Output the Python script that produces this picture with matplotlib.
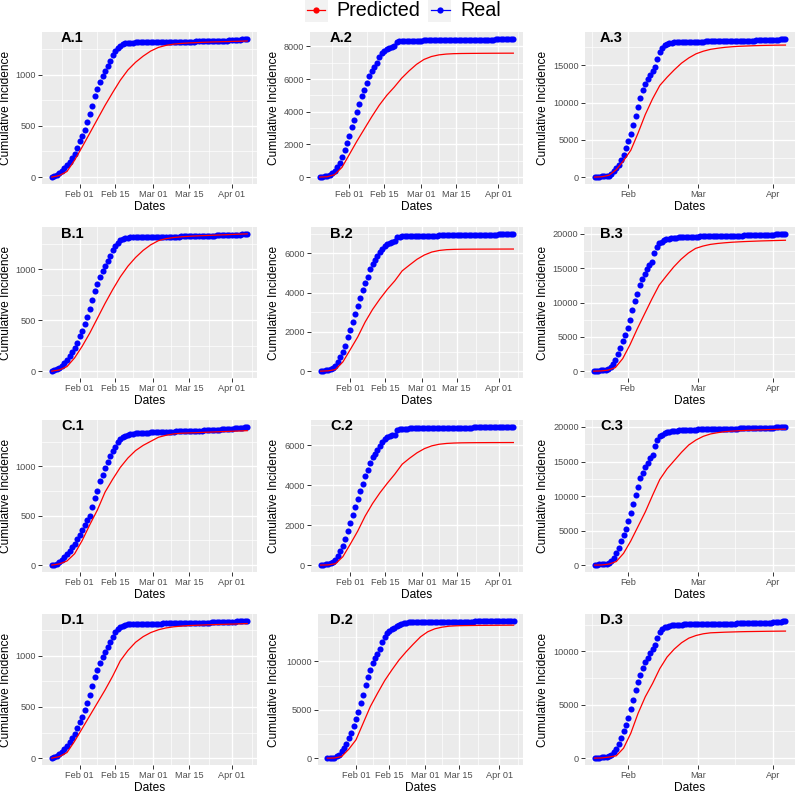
import numpy as np
import matplotlib.pyplot as plt
import matplotlib.dates as mdates
from matplotlib.ticker import MultipleLocator, FixedLocator, StrMethodFormatter
from matplotlib.lines import Line2D
from matplotlib.patches import Rectangle

plt.rcParams['font.family'] = ['Liberation Sans', 'DejaVu Sans']

# daily dates of each column of the grid
dates_col1 = np.arange('2020-01-21', '2020-04-08', dtype='datetime64[D]')  # 78 days
dates_col2 = np.arange('2020-01-20', '2020-04-08', dtype='datetime64[D]')  # 79 days
dates_col3 = np.arange('2020-01-18', '2020-04-07', dtype='datetime64[D]')  # 80 days

# real cumulative incidence (one value per day)
real_A1 = [0, 10, 20, 36, 60, 85, 117, 150, 190, 228, 287, 349, 397, 462, 537, 616, 697, 792, 857, 932,
           984, 1036, 1085, 1130, 1189, 1231, 1257, 1280, 1296, 1306, 1310,
           1311, 1312, 1313, 1313, 1314, 1314, 1315, 1315, 1316, 1316,
           1316, 1317, 1317, 1317, 1318, 1318, 1318, 1319, 1319, 1319,
           1320, 1320, 1321, 1321, 1322, 1322, 1323, 1323, 1324, 1325,
           1325, 1326, 1327, 1328, 1328, 1329, 1330, 1331, 1332, 1333,
           1335, 1337, 1339, 1341, 1343, 1345, 1348]
real_B1 = [0, 8, 18, 33, 55, 80, 110, 145, 185, 225, 280, 340, 395, 460, 530, 610, 695, 785, 855, 925,
           980, 1035, 1085, 1130, 1185, 1230, 1260, 1282, 1297, 1305, 1310,
           1312, 1313, 1314, 1314, 1315, 1315, 1316, 1316, 1317, 1317,
           1318, 1318, 1318, 1319, 1319, 1320, 1320, 1320, 1321, 1321,
           1322, 1322, 1323, 1323, 1324, 1324, 1325, 1325, 1326, 1327,
           1327, 1328, 1329, 1330, 1331, 1332, 1333, 1334, 1335, 1336,
           1337, 1338, 1339, 1340, 1342, 1343, 1345]
real_C1 = [0, 5, 15, 30, 50, 81, 108, 142, 180, 217, 268, 308, 356, 407, 454, 502, 586, 675, 749, 847,
           915, 983, 1044, 1102, 1153, 1197, 1247, 1278, 1298, 1312, 1322, 1329,
           1332, 1334, 1336, 1338, 1339, 1341, 1342, 1344, 1345, 1346,
           1347, 1348, 1349, 1350, 1351, 1352, 1353, 1354, 1355, 1356,
           1357, 1357, 1358, 1359, 1360, 1361, 1362, 1363, 1364, 1366,
           1367, 1368, 1370, 1371, 1373, 1374, 1376, 1378, 1380, 1383,
           1385, 1388, 1391, 1394, 1397, 1400]
real_D1 = [0, 10, 22, 38, 62, 88, 120, 155, 195, 235, 292, 352, 402, 466, 540, 618, 700, 792, 858, 930,
           985, 1035, 1082, 1128, 1185, 1228, 1255, 1278, 1293, 1302, 1306,
           1307, 1308, 1309, 1309, 1310, 1310, 1311, 1311, 1312, 1312,
           1313, 1313, 1313, 1314, 1314, 1314, 1315, 1315, 1315, 1316,
           1316, 1317, 1317, 1318, 1318, 1319, 1319, 1320, 1321, 1321,
           1322, 1323, 1324, 1325, 1325, 1326, 1327, 1328, 1329, 1330,
           1331, 1332, 1333, 1334, 1336, 1337, 1339]

real_A2 = [0, 20, 40, 60, 120, 245, 370, 590, 860, 1200, 1630, 2060, 2510, 3040, 3490, 4000, 4470, 4940,
           5350, 5755, 6200, 6490, 6715, 6980, 7370, 7590, 7730, 7820, 7890, 7950, 8000, 8280, 8310, 8325,
           8335, 8340, 8345, 8350, 8352, 8355, 8358, 8360, 8362, 8365,
           8367, 8369, 8371, 8373, 8375, 8377, 8379, 8381, 8383, 8385,
           8387, 8389, 8391, 8393, 8395, 8397, 8399, 8401, 8403, 8405,
           8407, 8409, 8411, 8413, 8415, 8417, 8420, 8423, 8426, 8429,
           8433, 8438, 8443, 8450, 8458]
real_B2 = [0, 20, 40, 60, 110, 135, 270, 455, 725, 980, 1300, 1720, 2110, 2500, 2930, 3320, 3740, 4150,
           4500, 4820, 5180, 5450, 5650, 5890, 6070, 6240, 6390, 6490, 6540, 6580, 6610, 6830, 6860,
           6870, 6875, 6880, 6883, 6886, 6889, 6892, 6895, 6898, 6900,
           6902, 6904, 6906, 6908, 6910, 6912, 6914, 6916, 6918, 6920,
           6922, 6924, 6926, 6928, 6930, 6932, 6934, 6936, 6938, 6940,
           6942, 6944, 6946, 6948, 6950, 6952, 6955, 6958, 6961, 6964,
           6968, 6972, 6977, 6982, 6988, 6995]
real_C2 = [0, 15, 30, 50, 100, 133, 250, 450, 700, 950, 1283, 1700, 2100, 2500, 2900, 3317, 3717, 4083,
           4450, 4767, 5117, 5400, 5583, 5783, 5983, 6167, 6300, 6400, 6467, 6500, 6533, 6783, 6817,
           6825, 6830, 6835, 6838, 6841, 6844, 6847, 6850, 6852, 6854,
           6856, 6858, 6860, 6862, 6864, 6866, 6868, 6870, 6872, 6874,
           6876, 6878, 6879, 6880, 6882, 6883, 6884, 6886, 6887, 6888,
           6889, 6890, 6892, 6893, 6894, 6896, 6897, 6899, 6900, 6902,
           6904, 6906, 6908, 6911, 6914, 6917]
real_D2 = [0, 20, 40, 60, 170, 340, 690, 1070, 1480, 2030, 2650, 3330, 4090, 4810, 5670, 6530, 7590, 8420,
           9110, 9790, 10310, 10760, 11270, 12030, 12540, 12890, 13130, 13300, 13500, 13640, 13750, 13850,
           13950, 14020, 14050,
           14060, 14065, 14070, 14075, 14078, 14080, 14083, 14085, 14088, 14090,
           14092, 14094, 14096, 14098, 14100, 14102, 14104, 14106, 14108, 14110,
           14112, 14114, 14116, 14118, 14120, 14122, 14124, 14126, 14128, 14130,
           14132, 14134, 14136, 14139, 14142, 14145, 14148, 14151, 14155, 14160,
           14165, 14172, 14180, 14190]

real_A3 = [0, 40, 60, 80, 100, 130, 180, 400, 850, 1200, 1560, 2230, 2990, 3970, 4870, 5760, 6960, 8170,
           9420, 10620, 11650, 12455, 13125, 13750, 14290, 14820, 15890, 16740, 17370, 17680, 17860, 17950,
           18040, 18080, 18120,
           18130, 18140, 18150, 18160, 18170, 18175, 18180, 18185, 18190, 18195,
           18200, 18205, 18210, 18215, 18220, 18225, 18230, 18235, 18240, 18245,
           18250, 18255, 18260, 18265, 18270, 18275, 18280, 18290, 18300, 18310,
           18320, 18330, 18340, 18350, 18360, 18370, 18380, 18390, 18400, 18410,
           18430, 18450, 18480, 18510, 18550]
real_B3 = [0, 50, 80, 100, 130, 180, 280, 630, 1010, 1690, 2460, 3420, 4340, 5200, 6310, 7520, 8870, 10170,
           11230, 12530, 13400, 14170, 14840, 15470, 15950, 17250, 18120, 18600, 18840, 19040, 19180, 19280,
           19370,
           19420, 19460, 19490, 19510, 19530, 19550, 19565, 19580, 19590, 19600,
           19610, 19620, 19630, 19640, 19650, 19660, 19670, 19680, 19690, 19700,
           19705, 19710, 19715, 19720, 19725, 19730, 19740, 19750, 19760, 19770,
           19780, 19790, 19800, 19810, 19820, 19830, 19840, 19850, 19860, 19870,
           19880, 19895, 19910, 19925, 19945, 19970, 20000]
real_C3 = [0, 60, 90, 110, 140, 190, 300, 650, 1050, 1720, 2500, 3450, 4380, 5250, 6350, 7550, 8900, 10200,
           11260, 12550, 13300, 14150, 14820, 15450, 15950, 17260, 18170, 18650, 18880, 19080, 19230, 19320,
           19400,
           19450, 19490, 19520, 19540, 19560, 19580, 19595, 19610, 19620, 19630,
           19640, 19650, 19660, 19670, 19680, 19690, 19700, 19710, 19720, 19730,
           19735, 19740, 19745, 19750, 19755, 19760, 19770, 19780, 19790, 19800,
           19810, 19820, 19830, 19840, 19850, 19860, 19870, 19880, 19890, 19900,
           19910, 19920, 19935, 19950, 19965, 19985, 20010]
real_D3 = [0, 30, 50, 70, 90, 130, 200, 250, 530, 840, 1340, 1900, 2520, 3110, 3790, 4570, 5470, 6370,
           7170, 7830, 8450, 8980, 9410, 9840, 10190, 10590, 11270, 11830, 12110, 12240, 12330, 12390,
           12450,
           12470, 12490, 12500, 12510, 12520, 12525, 12530, 12535, 12540, 12550,
           12555, 12560, 12565, 12570, 12572, 12575, 12578, 12580, 12583, 12586,
           12590, 12594, 12598, 12602, 12606, 12610, 12615, 12620, 12625, 12630,
           12636, 12642, 12648, 12654, 12660, 12667, 12674, 12681, 12688, 12696,
           12705, 12715, 12730, 12750, 12780, 12820, 12860]

# predicted cumulative incidence (every 3rd day plus the last day)
pred_A1 = [0, 15, 55, 165, 295, 430, 565, 700, 825, 945, 1045, 1120, 1180, 1230, 1265, 1285, 1297, 1304,
           1309, 1312, 1315, 1318, 1320, 1322, 1324, 1326, 1328]
pred_B1 = [0, 12, 45, 130, 245, 375, 520, 665, 800, 925, 1030, 1115, 1185, 1240, 1280, 1300, 1311, 1318,
           1323, 1327, 1330, 1333, 1336, 1339, 1342, 1345, 1347]
pred_C1 = [0, 12, 42, 115, 250, 410, 560, 740, 870, 990, 1085, 1160, 1213, 1254, 1295, 1315, 1329, 1336,
           1339, 1342, 1345, 1348, 1351, 1354, 1357, 1360, 1362]
pred_D1 = [0, 15, 55, 165, 290, 415, 540, 665, 800, 950, 1050, 1130, 1185, 1225, 1252, 1270, 1281, 1288,
           1293, 1296, 1299, 1302, 1304, 1306, 1308, 1311, 1313]

pred_A2 = [0, 20, 150, 600, 1400, 2200, 2950, 3700, 4400, 5000, 5500, 6050, 6500, 6900, 7200, 7380, 7480,
           7530, 7555, 7565, 7570, 7574, 7577, 7580, 7582, 7584, 7585]
pred_B2 = [0, 15, 80, 470, 1100, 1740, 2500, 3140, 3680, 4170, 4600, 5110, 5410, 5700, 5920, 6070, 6150,
           6190, 6205, 6212, 6215, 6217, 6218, 6219, 6220, 6221, 6222]
pred_C2 = [0, 10, 70, 420, 1050, 1700, 2450, 3080, 3620, 4100, 4550, 5050, 5350, 5620, 5830, 5970, 6050,
           6090, 6110, 6120, 6125, 6128, 6130, 6132, 6133, 6134, 6135]
pred_D2 = [0, 15, 170, 930, 1890, 3610, 5330, 6700, 8010, 9110, 10140, 11000, 11790, 12540, 13060, 13370,
           13540, 13640, 13680, 13700, 13710, 13720, 13725, 13730, 13735, 13740, 13745]

pred_A3 = [0, 40, 250, 1000, 2200, 3600, 5900, 8400, 10500, 12300, 13400, 14400, 15300, 16000, 16550,
           16900, 17150, 17300, 17420, 17500, 17560, 17600, 17640, 17670, 17690, 17710, 17720, 17725]
pred_B3 = [0, 30, 150, 530, 1830, 3850, 6170, 8340, 10500, 12530, 13880, 15180, 16290, 17200, 17880,
           18220, 18460, 18600, 18700, 18780, 18840, 18890, 18930, 18970, 19000, 19030, 19060, 19070]
pred_C3 = [0, 20, 150, 520, 1700, 3500, 5600, 7700, 10100, 12400, 13940, 15140, 16340, 17400, 18120,
           18650, 18990, 19180, 19330, 19400, 19460, 19510, 19550, 19590, 19620, 19650, 19680, 19690]
pred_D3 = [0, 20, 100, 220, 930, 2330, 4190, 5750, 6990, 8390, 9470, 10220, 10810, 11240, 11490, 11650,
           11740, 11770, 11800, 11820, 11840, 11855, 11865, 11875, 11885, 11893, 11900, 11902]

col_dates = [dates_col1, dates_col2, dates_col3]
panels = [
    ["A.1", real_A1, pred_A1, 500], ["A.2", real_A2, pred_A2, 2000], ["A.3", real_A3, pred_A3, 5000],
    ["B.1", real_B1, pred_B1, 500], ["B.2", real_B2, pred_B2, 2000], ["B.3", real_B3, pred_B3, 5000],
    ["C.1", real_C1, pred_C1, 500], ["C.2", real_C2, pred_C2, 2000], ["C.3", real_C3, pred_C3, 5000],
    ["D.1", real_D1, pred_D1, 500], ["D.2", real_D2, pred_D2, 5000], ["D.3", real_D3, pred_D3, 5000],
]

# layout in pixels
W, H = 796, 793
rows_px = [(32, 184), (227, 378), (420, 572), (614, 765)]
col_right = [257, 523, 795]
panel_left = {"A.1": 42, "B.1": 42, "C.1": 42, "D.1": 42,
              "A.2": 310, "B.2": 311, "C.2": 311, "D.2": 318,
              "A.3": 585, "B.3": 584, "C.3": 585, "D.3": 585}
ylab_x = [6, 274, 543]
tag_x = [61, 330, 600]

d = lambda s: mdates.date2num(np.datetime64(s))
major_12 = [d('2020-02-01'), d('2020-02-15'), d('2020-03-01'), d('2020-03-15'), d('2020-04-01')]
minor_12 = [d('2020-01-25'), d('2020-02-08'), d('2020-02-22'), d('2020-03-08'), d('2020-03-23'), d('2020-04-09')]
major_3 = [d('2020-02-01'), d('2020-03-01'), d('2020-04-01')]
minor_3 = [d('2020-01-17'), d('2020-02-15'), d('2020-03-16')]

fig = plt.figure(figsize=(W / 100, H / 100), dpi=100)

for i, (name, real, pred, ystep) in enumerate(panels):
    r, c = divmod(i, 3)
    top, bot = rows_px[r]
    left, right = panel_left[name], col_right[c]
    ax = fig.add_axes([left / W, 1 - bot / H, (right - left) / W, (bot - top) / H])
    ax.set_facecolor('#EBEBEB')

    dates = col_dates[c]
    n = len(dates)
    pidx = list(range(0, n, 3))
    if pidx[-1] != n - 1:
        pidx.append(n - 1)

    ax.plot(dates, real, 'o', color='#0000FF', ms=4.4, mew=0, zorder=3)
    ax.plot(dates[pidx], pred, '-', color='#FF0000', lw=0.9, zorder=4)
    ax.margins(x=0.05, y=0.05)

    ax.yaxis.set_major_locator(MultipleLocator(ystep))
    ax.yaxis.set_minor_locator(MultipleLocator(ystep / 2))
    ax.yaxis.set_major_formatter(StrMethodFormatter('{x:.0f}'))
    if c < 2:
        ax.xaxis.set_major_locator(FixedLocator(major_12))
        ax.xaxis.set_minor_locator(FixedLocator(minor_12))
        ax.xaxis.set_major_formatter(mdates.DateFormatter('%b %d'))
    else:
        ax.xaxis.set_major_locator(FixedLocator(major_3))
        ax.xaxis.set_minor_locator(FixedLocator(minor_3))
        ax.xaxis.set_major_formatter(mdates.DateFormatter('%b'))

    ax.grid(which='major', color='white', lw=1.0)
    ax.grid(which='minor', color='white', lw=0.5)
    ax.set_axisbelow(True)
    for sp in ax.spines.values():
        sp.set_visible(False)
    ax.tick_params(which='major', length=3, width=0.7, color='#333333',
                   labelcolor='#4D4D4D', labelsize=6.6, pad=1.5)
    ax.tick_params(which='minor', length=0)

    ax.set_xlabel('Dates', fontsize=8.6, labelpad=1)
    fig.text(ylab_x[c] / W, 1 - (top + bot) / 2 / H, 'Cumulative Incidence', rotation=90,
             ha='center', va='center', fontsize=8.6)
    fig.text(tag_x[c] / W, 1 - (top + 6.5) / H, name, fontweight='bold', fontsize=10.5,
             ha='left', va='center')

# legend with light key boxes as in ggplot
for kx in (305, 428):
    fig.patches.append(Rectangle((kx / W, 1 - 22 / H), 23 / W, 22 / H, transform=fig.transFigure,
                                 facecolor='#F2F2F2', edgecolor='none', zorder=0))
handles = [Line2D([], [], color='#FF0000', marker='o', ms=4.5, mew=0, lw=0.9),
           Line2D([], [], color='#0000FF', marker='o', ms=4.5, mew=0, lw=0.9)]
fig.legend(handles, ['Predicted', 'Real'], loc='center', bbox_to_anchor=(404 / W, 1 - 11 / H),
           ncol=2, frameon=False, fontsize=14.2, handlelength=0.95, handletextpad=0.55,
           columnspacing=0.55, borderpad=0)

fig.savefig('out.png', dpi=100)
